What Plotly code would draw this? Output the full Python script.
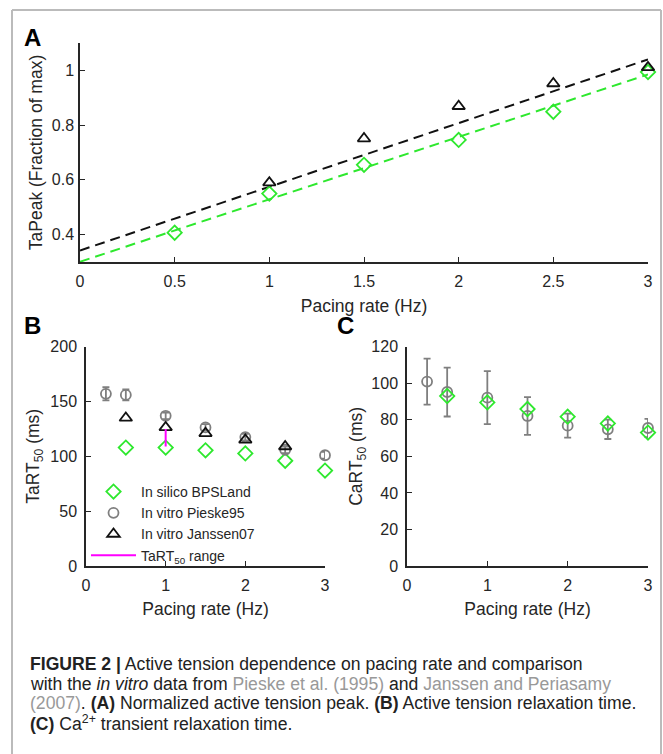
import plotly.graph_objects as go

W, H = 663, 754

# ---------------- Data ----------------
# Panel A: normalized active tension peak
rate_a_silico = [0.5, 1.0, 1.5, 2.0, 2.5, 3.0]
tapeak_silico = [0.407, 0.55, 0.655, 0.746, 0.849, 0.994]
rate_a_janssen = [1.0, 1.5, 2.0, 2.5, 3.0]
tapeak_janssen = [0.59, 0.751, 0.869, 0.952, 1.011]
fit_x = [0.0, 3.0]
fit_janssen = [0.342, 1.04]
fit_silico = [0.301, 0.985]

# Panel B: TaRT50
rate_b_silico = [0.5, 1.0, 1.5, 2.0, 2.5, 3.0]
tart_silico = [108, 108, 105.5, 102.7, 96, 87]
rate_b_pieske = [0.25, 0.5, 1.0, 1.5, 2.0, 2.5, 3.0]
tart_pieske = [157, 156, 137, 126.4, 117.6, 106, 101]
tart_pieske_err = [6, 5, 3, 3, 3, 3, 3]
rate_b_janssen = [0.5, 1.0, 1.5, 2.0, 2.5]
tart_janssen = [135, 126.4, 121, 115, 109]
range_x = [1.0, 1.0]
range_y = [109, 125]

# Panel C: CaRT50
rate_c_pieske = [0.25, 0.5, 1.0, 1.5, 2.0, 2.5, 3.0]
cart_pieske = [100.9, 95.2, 92.1, 82.1, 76.8, 74.8, 75.5]
cart_pieske_err = [12.6, 13.4, 14.5, 10.3, 6.6, 5.3, 5.0]
rate_c_silico = [0.5, 1.0, 1.5, 2.0, 2.5, 3.0]
cart_silico = [93, 89.5, 85.9, 81.7, 78, 73]

# ---------------- Styles ----------------
GREEN = "#2ee82e"
GRAY = "#7f7f7f"
BLACK = "#111111"
MAGENTA = "#ff00ff"
AXC = "#262626"
FONT = "Liberation Sans, Arial, sans-serif"
DASH = "10px,6px"

fig = go.Figure()

# Panel A
fig.add_trace(go.Scatter(x=fit_x, y=fit_janssen, mode="lines",
                         line=dict(color=BLACK, width=2, dash=DASH),
                         xaxis="x", yaxis="y", showlegend=False, cliponaxis=False))
fig.add_trace(go.Scatter(x=fit_x, y=fit_silico, mode="lines",
                         line=dict(color=GREEN, width=2, dash=DASH),
                         xaxis="x", yaxis="y", showlegend=False, cliponaxis=False))
fig.add_trace(go.Scatter(x=rate_a_silico, y=tapeak_silico, mode="markers",
                         marker=dict(symbol="diamond-open", size=11, color=GREEN, line=dict(width=1.8)),
                         xaxis="x", yaxis="y", showlegend=False, cliponaxis=False))
fig.add_trace(go.Scatter(x=rate_a_janssen, y=tapeak_janssen, mode="markers",
                         marker=dict(symbol="triangle-up-open", size=11, color=BLACK, line=dict(width=1.8)),
                         xaxis="x", yaxis="y", showlegend=False, cliponaxis=False))

# Panel B
fig.add_trace(go.Scatter(x=rate_b_silico, y=tart_silico, mode="markers", name="In silico BPSLand",
                         marker=dict(symbol="diamond-open", size=11, color=GREEN, line=dict(width=1.8)),
                         xaxis="x2", yaxis="y2", cliponaxis=False))
fig.add_trace(go.Scatter(x=rate_b_pieske, y=tart_pieske, mode="markers", name="In vitro Pieske95",
                         error_y=dict(type="data", array=tart_pieske_err, color=GRAY, thickness=1.8, width=3.5),
                         marker=dict(symbol="circle-open", size=10, color=GRAY, line=dict(width=1.8)),
                         xaxis="x2", yaxis="y2", cliponaxis=False))
fig.add_trace(go.Scatter(x=rate_b_janssen, y=tart_janssen, mode="markers", name="In vitro Janssen07",
                         marker=dict(symbol="triangle-up-open", size=11, color=BLACK, line=dict(width=1.8)),
                         xaxis="x2", yaxis="y2", cliponaxis=False))
fig.add_trace(go.Scatter(x=range_x, y=range_y, mode="lines", name="TaRT<sub>50</sub> range",
                         line=dict(color=MAGENTA, width=2),
                         xaxis="x2", yaxis="y2", cliponaxis=False))

# Panel C
fig.add_trace(go.Scatter(x=rate_c_pieske, y=cart_pieske, mode="markers",
                         error_y=dict(type="data", array=cart_pieske_err, color=GRAY, thickness=1.8, width=3.5),
                         marker=dict(symbol="circle-open", size=10, color=GRAY, line=dict(width=1.8)),
                         xaxis="x3", yaxis="y3", showlegend=False, cliponaxis=False))
fig.add_trace(go.Scatter(x=rate_c_silico, y=cart_silico, mode="markers",
                         marker=dict(symbol="diamond-open", size=11, color=GREEN, line=dict(width=1.8)),
                         xaxis="x3", yaxis="y3", showlegend=False, cliponaxis=False))


def px_x(p):
    return p / W


def px_y(p):
    return 1 - p / H


axis_common = dict(showline=True, linecolor=AXC, linewidth=1.5, ticks="inside", ticklen=5,
                   tickwidth=1.3, tickcolor=AXC, showgrid=False, zeroline=False, automargin=False,
                   tickfont=dict(family=FONT, size=16, color=AXC), mirror=False)
title_font = dict(family=FONT, size=17.5, color=AXC)

fig.update_layout(
    template="none",
    width=W, height=H, autosize=False,
    margin=dict(l=0, r=0, t=0, b=0, pad=0, autoexpand=False),
    paper_bgcolor="white", plot_bgcolor="white",
    font=dict(family=FONT, color=AXC),
    xaxis=dict(domain=[px_x(80), px_x(648)], range=[0, 3], tickvals=[0, 0.5, 1, 1.5, 2, 2.5, 3],
               ticktext=["0", "0.5", "1", "1.5", "2", "2.5", "3"], anchor="y", ticklabelstandoff=4,
               title=dict(text="Pacing rate (Hz)", font=title_font, standoff=11), **axis_common),
    yaxis=dict(domain=[px_y(262), px_y(43)], range=[0.3, 1.1], tickvals=[0.4, 0.6, 0.8, 1.0],
               ticktext=["0.4", "0.6", "0.8", "1"], anchor="x", ticklabelstandoff=1,
               title=dict(text="TaPeak (Fraction of max)", font=title_font, standoff=5), **axis_common),
    xaxis2=dict(domain=[px_x(86), px_x(325)], range=[0, 3], tickvals=[0, 1, 2, 3], anchor="y2",
                ticklabelstandoff=4,
                title=dict(text="Pacing rate (Hz)", font=title_font, standoff=10), **axis_common),
    yaxis2=dict(domain=[px_y(566), px_y(346.7)], range=[0, 200], tickvals=[0, 50, 100, 150, 200], anchor="x2",
                ticklabelstandoff=4,
                title=dict(text="TaRT<sub>50</sub> (ms)", font=title_font, standoff=6), **axis_common),
    xaxis3=dict(domain=[px_x(407), px_x(648)], range=[0, 3], tickvals=[0, 1, 2, 3], anchor="y3",
                ticklabelstandoff=4,
                title=dict(text="Pacing rate (Hz)", font=title_font, standoff=10), **axis_common),
    yaxis3=dict(domain=[px_y(566), px_y(346.7)], range=[0, 120], tickvals=[0, 20, 40, 60, 80, 100, 120], anchor="x3",
                ticklabelstandoff=4,
                title=dict(text="CaRT<sub>50</sub> (ms)", font=title_font, standoff=4), **axis_common),
    legend=dict(x=px_x(86), y=px_y(476), xanchor="left", yanchor="top", bgcolor="rgba(0,0,0,0)",
                borderwidth=0, font=dict(family=FONT, size=14, color=AXC), itemwidth=45, tracegroupgap=0),
    showlegend=True,
)

# Panel labels
for txt, x, y in [("A", 22, 37), ("B", 22, 326), ("C", 335, 326)]:
    fig.add_annotation(text=f"<b>{txt}</b>", xref="paper", yref="paper", x=px_x(x), y=px_y(y),
                       xanchor="left", yanchor="middle", showarrow=False,
                       font=dict(family=FONT, size=24, color="#000000"))

# Caption
REF = "#999999"
cap_lines = [
    "<b>FIGURE 2 |</b> Active tension dependence on pacing rate and comparison",
    f"with the <i>in vitro</i> data from <span style='color:{REF}'>Pieske et al. (1995)</span> and "
    f"<span style='color:{REF}'>Janssen and Periasamy</span>",
    f"<span style='color:{REF}'>(2007)</span>. <b>(A)</b> Normalized active tension peak. "
    "<b>(B)</b> Active tension relaxation time.",
    "<b>(C)</b> Ca<sup>2+</sup> transient relaxation time.",
]
cap_y = [664, 684, 703, 723]
for line, y in zip(cap_lines, cap_y):
    fig.add_annotation(text=line, xref="paper", yref="paper", x=px_x(28), y=px_y(y),
                       xanchor="left", yanchor="middle", showarrow=False,
                       font=dict(family=FONT, size=17.6, color="#222222"))

# Frame border (left, top, right)
BORDER = dict(color="#bbbbbb", width=2)
fig.add_shape(type="line", xref="paper", yref="paper", x0=px_x(12), x1=px_x(12), y0=0, y1=px_y(10), line=BORDER)
fig.add_shape(type="line", xref="paper", yref="paper", x0=px_x(12), x1=px_x(661), y0=px_y(10), y1=px_y(10), line=BORDER)
fig.add_shape(type="line", xref="paper", yref="paper", x0=px_x(661), x1=px_x(661), y0=0, y1=px_y(10), line=BORDER)

fig.write_html("out.html", config={"displayModeBar": False},
               post_script="document.body.style.margin='0';document.body.style.overflow='hidden';")
